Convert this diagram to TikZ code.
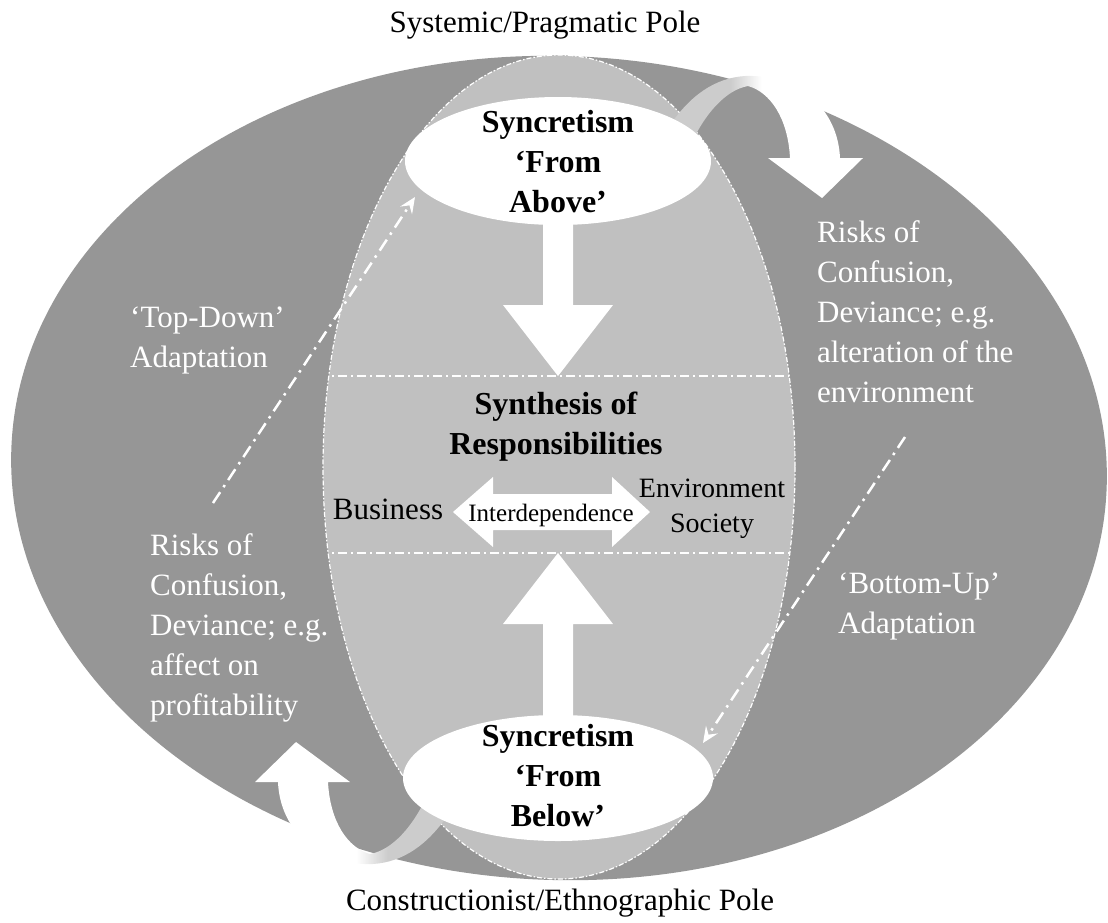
\documentclass[tikz,border=0pt]{standalone}
\usepackage{fontspec}
\setmainfont{Liberation Serif}
\usetikzlibrary{arrows.meta}
\definecolor{outergray}{RGB}{150,150,150}
\definecolor{innergray}{RGB}{192,192,192}
\definecolor{bandgray}{RGB}{204,204,204}
\pgfdeclarehorizontalshading{bandfadeR}{100bp}{color(0bp)=(bandgray); color(25bp)=(bandgray); color(41bp)=(bandgray); color(49bp)=(white); color(100bp)=(white)}
\pgfdeclarehorizontalshading{bandfadeL}{100bp}{color(0bp)=(white); color(51bp)=(white); color(59bp)=(bandgray); color(75bp)=(bandgray); color(100bp)=(bandgray)}
\begin{document}
\begin{tikzpicture}[x=1pt,y=-1pt,
  sidetext/.style={font=\fontsize{31}{40}\selectfont, text=white, align=left, inner sep=0pt, anchor=west},
  heading/.style={font=\fontsize{32}{40}\selectfont\bfseries, align=center, inner sep=0pt},
  pole/.style={font=\fontsize{31}{37}\selectfont, inner sep=0pt, anchor=base},
  plain/.style={inner sep=0pt},
  blockarrow/.style={fill=white},
  innerborder/.style={draw=white, line width=1.2pt, dash pattern=on 5pt off 2pt on 1.5pt off 2pt},
  midline/.style={draw=white, line width=1.5pt, dash pattern=on 9pt off 4pt on 2pt off 4pt},
  adaptarrow/.style={draw=white, line width=2.5pt, dash pattern=on 13pt off 6pt on 2.5pt off 6pt, -{Stealth[length=16pt,width=14pt,inset=6pt]}}
]
\useasboundingbox (0,0) rectangle (1108,922);

% outer dark ellipse
\fill[outergray, rotate around={-2:(559,468)}] (559,468) ellipse [x radius=548, y radius=412];

% inner light ellipse
\fill[innergray] (559,467) ellipse [x radius=236, y radius=412];
\draw[innerborder] (559,467) ellipse [x radius=236, y radius=412];

% curved arrow, top right
\shade[shading=bandfadeR] (668,128) .. controls (690,95) and (715,78) .. (745,76)
  .. controls (800,74) and (838,110) .. (840,158) -- (863,158) -- (822,198) -- (768,158) -- (790,158)
  .. controls (788,118) and (770,92) .. (748,86) .. controls (725,90) and (705,115) .. (693,140) -- cycle;
% curved arrow, bottom left
\shade[shading=bandfadeL] (450,812) .. controls (428,845) and (403,862) .. (373,864)
  .. controls (318,866) and (280,830) .. (278,782) -- (255,782) -- (296,742) -- (350,782) -- (328,782)
  .. controls (330,822) and (348,848) .. (370,854) .. controls (393,850) and (413,825) .. (425,800) -- cycle;

% white ellipses
\fill[white] (558,161) ellipse [x radius=153, y radius=64];
\fill[white] (558,778) ellipse [x radius=155, y radius=63];

% horizontal dash-dot lines
\begin{scope}
\clip (559,467) ellipse [x radius=236, y radius=412];
\draw[midline] (300,376) -- (820,376);
\draw[midline] (300,553) -- (820,553);
\end{scope}

% block arrows
\fill[blockarrow] (543,215) -- (543,305) -- (503,305) -- (558,376) -- (613,305) -- (573,305) -- (573,215) -- cycle;
\fill[blockarrow] (543,720) -- (543,624) -- (503,624) -- (558,553) -- (613,624) -- (573,624) -- (573,720) -- cycle;
\fill[blockarrow] (453,512) -- (493,477) -- (493,494) -- (612,494) -- (612,477) -- (650,512) -- (612,547) -- (612,530) -- (493,530) -- (493,547) -- cycle;

% adaptation arrows
\coordinate (tdstart) at (213,503);
\coordinate (tdend) at (415,197);
\coordinate (bustart) at (905,437);
\coordinate (buend) at (703,743);
\draw[adaptarrow] (tdstart) -- (tdend);
\draw[adaptarrow] (bustart) -- (buend);

% texts
\node[pole] (toppole) at (545,32) {Systemic/Pragmatic Pole};
\node[pole] (botpole) at (560,910) {Constructionist/Ethnographic Pole};
\node[heading] (abovetxt) at (558,162) {Syncretism\\‘From\\Above’};
\node[heading] (belowtxt) at (558,776) {Syncretism\\‘From\\Below’};
\node[heading] (synth) at (556,427) {Synthesis of\\Responsibilities};
\node[plain, font=\fontsize{31}{37}\selectfont, anchor=base] (business) at (388,519) {Business};
\node[plain, font=\fontsize{28}{35}\selectfont, align=center] (envsoc) at (712,509) {Environment\\Society};
\node[plain, font=\fontsize{25}{30}\selectfont, anchor=base] (interdep) at (551,521) {Interdependence};
\node[sidetext] (riskright) at (817,312) {Risks of\\Confusion,\\Deviance; e.g.\\alteration of the\\environment};
\node[sidetext] (riskleft) at (150,628) {Risks of\\Confusion,\\Deviance; e.g.\\affect on\\profitability};
\node[sidetext] (topdown) at (130,340) {‘Top-Down’\\Adaptation};
\node[sidetext] (bottomup) at (838,606) {‘Bottom-Up’\\Adaptation};
\end{tikzpicture}
\end{document}
